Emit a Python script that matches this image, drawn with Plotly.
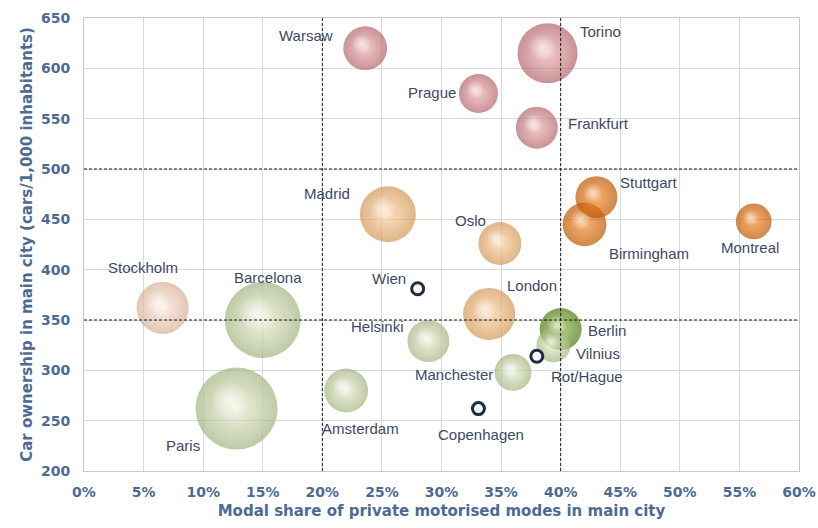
import plotly.graph_objects as go

# City data: modal share of private motorised modes, car ownership, bubble size
cities = ["Paris", "Barcelona", "Torino", "Madrid", "Stockholm", "London",
          "Warsaw", "Birmingham", "Stuttgart", "Amsterdam", "Frankfurt", "Oslo",
          "Helsinki", "Berlin", "Prague", "Manchester", "Montreal", "Vilnius"]
modal_share = [0.128, 0.150, 0.389, 0.255, 0.066, 0.340,
               0.236, 0.420, 0.430, 0.220, 0.380, 0.349,
               0.289, 0.400, 0.331, 0.360, 0.562, 0.394]
car_ownership = [262, 350, 615, 455, 362, 356,
                 620, 445, 472, 280, 541, 426,
                 329, 341, 575, 298, 448, 325]
bubble_size = [168, 144, 90, 78, 68, 68,
               48, 48, 44, 48, 44, 46,
               44, 44, 38, 34, 32, 29]
group = ["lg", "lg", "pk", "tan", "peach", "tan",
         "pk", "or", "or", "lg", "pk", "tan",
         "lg", "dg", "pk", "lg", "or", "lg"]

# Small reference cities drawn as open rings
ring_cities = ["Wien", "Rot/Hague", "Copenhagen"]
ring_share = [0.280, 0.380, 0.331]
ring_cars = [381, 314, 262]

# Label placement (anchor, x offset, y offset in px)
label_pos = {
    "Warsaw": ("right", -30, 13), "Torino": ("left", 30, 22),
    "Prague": ("right", -20, 1), "Frankfurt": ("left", 29, 4),
    "Stuttgart": ("left", 22, 15), "Birmingham": ("left", 22, -29),
    "Montreal": ("center", -4, -26), "Madrid": ("right", -36, 21),
    "Oslo": ("right", -12, 23), "Stockholm": ("center", -20, 40),
    "Barcelona": ("center", 5, 43), "Wien": ("right", -10, 10),
    "London": ("left", 16, 28), "Helsinki": ("right", -22, 15),
    "Berlin": ("left", 25, -1), "Vilnius": ("left", 20, -8),
    "Rot/Hague": ("left", 12, -20), "Manchester": ("right", -18, -2),
    "Copenhagen": ("center", 3, -26), "Amsterdam": ("center", 14, -38),
    "Paris": ("center", -54, -37),
}

# Sphere shading: rim colour and body colour per group
edge_col = {"pk": "#b2636a", "or": "#bb5600", "tan": "#d29654",
            "peach": "#d6ae96", "lg": "#a3b27e", "dg": "#4b7a10"}
body_col = {"pk": "#ecb4b4", "or": "#f88c2c", "tan": "#fad2a2",
            "peach": "#fbe8d8", "lg": "#e8efd4", "dg": "#8fbe44"}

tick_font = dict(family="DejaVu Sans", size=14, color="#4d6b92", weight="bold")
title_font = dict(family="DejaVu Sans", size=15, color="#4d6b92", weight="bold")
label_font = dict(family="Liberation Sans", size=15, color="#3c4a60")

W, H = 818, 528
M = dict(l=84, r=19, t=18, b=57)
X_RANGE, Y_RANGE = [0, 0.60], [200, 650]
SIZEREF = 0.05
# data units per screen pixel, used to place the specular highlight
x_per_px = (X_RANGE[1] - X_RANGE[0]) / (W - M["l"] - M["r"])
y_per_px = (Y_RANGE[1] - Y_RANGE[0]) / (H - M["t"] - M["b"])

fig = go.Figure()

fig.add_trace(go.Scatter(
    x=modal_share, y=car_ownership, mode="markers",
    marker=dict(
        size=bubble_size, sizemode="area", sizeref=SIZEREF,
        color=[edge_col[g] for g in group],
        gradient=dict(type="radial", color=[body_col[g] for g in group]),
        line=dict(width=0),
    ),
    text=cities, hoverinfo="text", showlegend=False,
))

# Specular highlight, shifted up-left on each sphere
radius = [(s / SIZEREF) ** 0.5 / 2 for s in bubble_size]
hl_x = [xv - 0.25 * r * x_per_px for xv, r in zip(modal_share, radius)]
hl_y = [yv + 0.28 * r * y_per_px for yv, r in zip(car_ownership, radius)]
fig.add_trace(go.Scatter(
    x=hl_x, y=hl_y, mode="markers",
    marker=dict(
        size=[r * 1.3 for r in radius],
        color="rgba(255,255,255,0)",
        gradient=dict(type="radial", color="rgba(255,255,255,0.9)"),
        line=dict(width=0),
    ),
    hoverinfo="skip", showlegend=False,
))

fig.add_trace(go.Scatter(
    x=ring_share, y=ring_cars, mode="markers",
    marker=dict(size=12, color="#f4f6f8",
                line=dict(width=3, color="#1e2d42")),
    text=ring_cities, hoverinfo="text", showlegend=False,
))

# City labels
for name, xv, yv in list(zip(cities, modal_share, car_ownership)) + \
        list(zip(ring_cities, ring_share, ring_cars)):
    anchor, dx, dy = label_pos[name]
    fig.add_annotation(x=xv, y=yv, text=name, showarrow=False,
                       xanchor=anchor, yanchor="middle",
                       xshift=dx, yshift=dy, font=label_font)

# Quadrant divider lines
for xv in (0.20, 0.40):
    fig.add_shape(type="line", xref="x", yref="paper", x0=xv, x1=xv, y0=0, y1=1,
                  line=dict(color="#1a1a1a", width=1, dash="3px,2px"), layer="above")
for yv in (500, 350):
    fig.add_shape(type="line", xref="paper", yref="y", x0=0, x1=1, y0=yv, y1=yv,
                  line=dict(color="#1a1a1a", width=1, dash="3px,2px"), layer="above")

fig.update_xaxes(
    range=X_RANGE, dtick=0.05, tickformat=".0%", automargin=False,
    showgrid=True, gridcolor="#d9d9d9", gridwidth=1,
    showline=True, linecolor="#c8c8c8", mirror=True,
    zeroline=False, tickfont=tick_font, ticks="", ticklabelstandoff=8,
    title=dict(text="Modal share of private motorised modes in main city",
               font=title_font, standoff=6),
)
fig.update_yaxes(
    range=Y_RANGE, dtick=50, automargin=False,
    showgrid=True, gridcolor="#d9d9d9", gridwidth=1,
    showline=True, linecolor="#c8c8c8", mirror=True,
    zeroline=False, tickfont=tick_font, ticks="", ticklabelstandoff=10,
    title=dict(text="Car ownership in main city (cars/1,000 inhabitants)",
               font=title_font, standoff=4),
)

fig.update_layout(
    width=W, height=H, margin=M,
    paper_bgcolor="white", plot_bgcolor="white",
)

fig.write_html("out.html")
